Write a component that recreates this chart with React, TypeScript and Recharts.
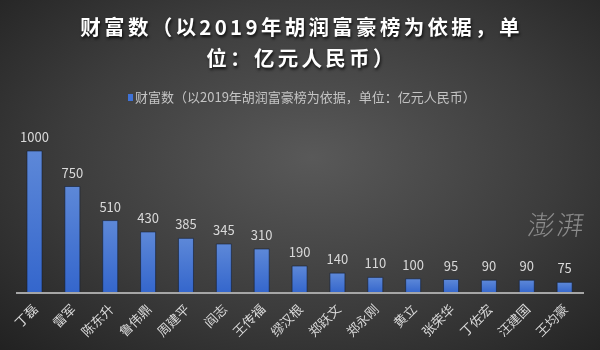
import React from 'react';
import { BarChart, Bar, XAxis, YAxis, LabelList } from 'recharts';

const names = ['丁磊', '雷军', '陈东升', '鲁伟鼎', '周建平', '阎志', '王传福', '缪汉根', '郑跃文', '郑永刚', '黄立', '张荣华', '丁佐宏', '汪建国', '王均豪'];
const wealth = [1000, 750, 510, 430, 385, 345, 310, 190, 140, 110, 100, 95, 90, 90, 75];

const titleLines = ['财富数（以2019年胡润富豪榜为依据，单', '位：亿元人民币）'];
const seriesName = '财富数（以2019年胡润富豪榜为依据，单位：亿元人民币）';

const FONT = '"Noto Sans CJK SC", "Noto Sans", sans-serif';

const chartData = names.map((name, i) => ({ name, value: wealth[i] }));

const NameTick = (props: any) => {
    const { x, y, payload } = props;
    return (
        <text
            x={x + 4}
            y={y + 9}
            transform={`rotate(-45, ${x + 4}, ${y + 9})`}
            textAnchor="end"
            fill="#d9d9d9"
            fontSize={13}
            fontFamily={FONT}
        >
            {payload.value}
        </text>
    );
};

const App: React.FC = () => {
    return (
        <div
            style={{
                position: 'fixed',
                top: 0,
                left: 0,
                width: 600,
                height: 350,
                background: 'radial-gradient(ellipse 75% 80% at 52% 45%, #595959 0%, #3c3c3c 55%, #202020 100%)',
                fontFamily: FONT,
                overflow: 'hidden'
            }}
        >
            {titleLines.map((line, i) => (
                <div
                    key={i}
                    style={{
                        position: 'absolute',
                        left: 0,
                        width: 600,
                        paddingLeft: 3,
                        boxSizing: 'border-box',
                        top: 12 + i * 31,
                        textAlign: 'center',
                        color: '#ffffff',
                        fontSize: 20.5,
                        fontWeight: 700,
                        letterSpacing: 3.3,
                        lineHeight: '28px',
                        textShadow: '1px 2px 3px rgba(0,0,0,0.8)'
                    }}
                >
                    {line}
                </div>
            ))}

            <div
                style={{
                    position: 'absolute',
                    top: 87,
                    left: 128,
                    display: 'flex',
                    alignItems: 'center',
                    color: '#c4c4c4',
                    fontSize: 13,
                    lineHeight: '20px'
                }}
            >
                <span style={{ display: 'inline-block', width: 5, height: 7, background: '#3f72d6', marginRight: 2 }} />
                {seriesName}
            </div>

            <div
                style={{
                    position: 'absolute',
                    top: 204,
                    left: 528,
                    color: '#8c8c8c',
                    fontSize: 27,
                    fontFamily: '"Noto Sans CJK SC", serif',
                    fontWeight: 300,
                    letterSpacing: 2,
                    transform: 'skewX(-8deg)'
                }}
            >
                澎湃
            </div>

            <BarChart
                width={600}
                height={350}
                data={chartData}
                margin={{ top: 151, right: 16, left: 16, bottom: 0 }}
                barCategoryGap={0}
                style={{ position: 'absolute', top: 0, left: 0 }}
            >
                <defs>
                    <linearGradient id="wealthFill" x1="0" y1="0" x2="0" y2="1">
                        <stop offset="0%" stopColor="#5d88d8" />
                        <stop offset="100%" stopColor="#3466cc" />
                    </linearGradient>
                </defs>
                <YAxis hide domain={[0, 1000]} />
                <XAxis
                    dataKey="name"
                    interval={0}
                    height={57}
                    axisLine={{ stroke: '#a6a6a6', strokeWidth: 2 }}
                    tickLine={false}
                    tick={<NameTick />}
                />
                <Bar
                    dataKey="value"
                    fill="url(#wealthFill)"
                    barSize={15}
                    stroke="rgba(20,30,50,0.6)"
                    strokeWidth={1}
                    isAnimationActive={false}
                >
                    <LabelList
                        dataKey="value"
                        position="top"
                        offset={9}
                        fill="#d9d9d9"
                        fontSize={13}
                        fontFamily={FONT}
                    />
                </Bar>
            </BarChart>
        </div>
    );
};

export default App;
